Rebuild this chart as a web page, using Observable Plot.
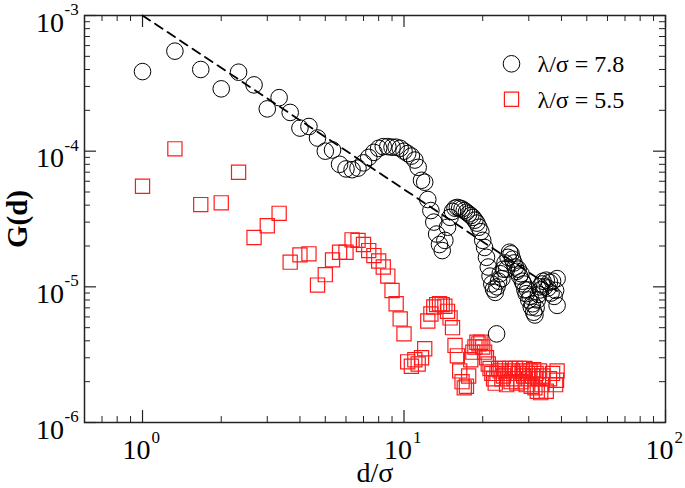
<!DOCTYPE html>
<html><head><meta charset="utf-8">
<script src="https://cdn.jsdelivr.net/npm/d3@7"></script>
<script src="https://cdn.jsdelivr.net/npm/@observablehq/plot@0.6"></script>
<style>html,body{margin:0;padding:0;background:#fff}</style>
</head><body><div id="chart"></div>
<script>
// λ/σ = 7.8 (circles)
const circleX = [1.00,1.33,1.67,2.00,2.33,2.67,3.00,3.33,3.67,4.00,4.33,4.67,5.00,5.33,5.67,6.00,6.33,6.67,7.00,7.33,7.67,8.00,8.33,8.67,9.00,9.33,9.67,10.0,10.33,10.67,11.0,11.33,11.67,12.0,12.33,12.67,13.0,13.33,13.67,14.0,14.33,14.67,15.0,15.33,15.67,16.0,16.33,16.67,17.0,17.33,17.67,18.0,18.33,18.67,19.0,19.33,19.67,20.0,20.33,20.67,21.0,21.33,21.67,22.0,22.33,22.67,23.0,23.33,23.67,24.0,24.33,24.67,25.0,25.33,25.67,26.0,26.33,26.67,27.0,27.33,27.67,28.0,28.33,28.67,29.0,29.33,29.67,30.0,30.33,30.67,31.0,31.33,31.67,32.0,32.33,32.67,33.0,33.33,33.67,34.0,34.5,35.0,35.5,36.0,36.5,37.0,37.5,38.0,38.5,38.5,22.6];
const circleY = [3.86e-4,5.46e-4,4.0e-4,2.88e-4,3.82e-4,3.08e-4,2.05e-4,2.48e-4,1.93e-4,1.48e-4,1.52e-4,1.25e-4,1.0e-4,1.02e-4,8.0e-5,7.4e-5,7.3e-5,7.5e-5,8.2e-5,9.0e-5,9.8e-5,1.05e-4,1.08e-4,1.08e-4,1.07e-4,1.07e-4,1.05e-4,1.0e-4,9.6e-5,9.2e-5,8.6e-5,7.6e-5,6.1e-5,5.9e-5,4.4e-5,3.65e-5,3.0e-5,2.45e-5,2.05e-5,1.85e-5,2.2e-5,2.75e-5,3.25e-5,3.6e-5,3.8e-5,3.85e-5,3.8e-5,3.75e-5,3.65e-5,3.55e-5,3.45e-5,3.35e-5,3.25e-5,3.1e-5,2.95e-5,2.75e-5,2.55e-5,2.2e-5,1.95e-5,1.65e-5,1.4e-5,1.2e-5,1.05e-5,9.6e-6,9.1e-6,1.0e-5,1.1e-5,1.25e-5,1.15e-5,1.35e-5,1.5e-5,1.35e-5,1.65e-5,1.8e-5,1.75e-5,1.6e-5,1.5e-5,1.4e-5,1.3e-5,1.35e-5,1.2e-5,1.25e-5,1.1e-5,1.05e-5,9.5e-6,8.9e-6,9.5e-6,8.0e-6,8.5e-6,7.1e-6,7.5e-6,6.5e-6,6.2e-6,7.0e-6,8.0e-6,8.8e-6,1.0e-5,9.5e-6,1.05e-5,1.1e-5,1.0e-5,1.12e-5,9.8e-6,1.08e-5,9.0e-6,1.1e-5,8.5e-6,9.4e-6,1.15e-5,7.3e-6,4.5e-6];
// λ/σ = 5.5 (squares)
const squareX = [1.00,1.33,1.67,2.00,2.33,2.67,3.00,3.33,3.67,4.00,4.33,4.67,5.00,5.33,5.67,6.00,6.33,6.67,7.00,7.33,7.67,8.00,8.33,8.67,9.00,9.33,9.67,10.0,10.33,10.67,11.0,11.33,11.67,12.0,12.33,12.67,13.0,13.33,13.67,14.0,14.33,14.67,15.0,15.33,15.67,16.0,16.33,16.67,17.0,17.33,17.67,18.0,18.33,18.67,19.0,19.33,19.67,20.0,20.33,20.67,21.0,21.33,21.67,22.0,22.33,22.67,23.0,23.33,23.67,24.0,24.33,24.67,25.0,25.33,25.67,26.0,26.33,26.67,27.0,27.33,27.67,28.0,28.33,28.67,29.0,29.33,29.67,30.0,30.33,30.67,31.0,31.33,31.67,32.0,32.33,32.67,33.0,33.33,33.67,34.0,35.0,36.0,37.0,38.0,38.5,38.3];
const squareY = [5.51e-5,1.04e-4,4.04e-5,4.16e-5,6.99e-5,2.31e-5,2.82e-5,3.48e-5,1.52e-5,1.72e-5,1.75e-5,1.03e-5,1.23e-5,1.58e-5,1.8e-5,1.8e-5,2.22e-5,2.2e-5,2.05e-5,1.85e-5,1.7e-5,1.55e-5,1.4e-5,1.2e-5,9.4e-6,7.5e-6,5.8e-6,4.5e-6,2.8e-6,2.6e-6,2.9e-6,2.7e-6,3.0e-6,3.5e-6,5.6e-6,6.3e-6,7.1e-6,7.4e-6,7.5e-6,7.4e-6,7.2e-6,6.6e-6,5.9e-6,5.0e-6,3.7e-6,3.1e-6,2.4e-6,2.0e-6,1.8e-6,1.85e-6,2.2e-6,2.9e-6,3.3e-6,3.6e-6,3.9e-6,3.8e-6,3.9e-6,3.6e-6,3.3e-6,3.0e-6,2.7e-6,2.5e-6,2.3e-6,2.1e-6,1.95e-6,2.3e-6,2.5e-6,2.4e-6,2.1e-6,2.2e-6,2.5e-6,1.9e-6,2.3e-6,2.5e-6,2.0e-6,2.4e-6,2.1e-6,2.5e-6,1.95e-6,2.3e-6,2.5e-6,2.0e-6,2.4e-6,2.2e-6,2.5e-6,1.9e-6,2.3e-6,2.1e-6,2.4e-6,1.85e-6,2.2e-6,2.45e-6,1.8e-6,2.3e-6,1.7e-6,2.1e-6,2.4e-6,1.66e-6,1.9e-6,2.2e-6,1.7e-6,2.1e-6,2.3e-6,1.9e-6,2.4e-6,2.05e-6];
// power-law guide (dashed)
const fitX = [1, 38.5];
const fitY = [1e-3, 9.3e-6];
// ticks
const xMajor = [1, 10, 100];
const xMajorExp = ["0", "1", "2"];
const xMinor = [0.7,0.8,0.9,2,3,4,5,6,7,8,9,20,30,40,50,60,70,80,90];
const yMajor = [1e-3, 1e-4, 1e-5, 1e-6];
const yMajorExp = ["-3", "-4", "-5", "-6"];
const yMinor = [2e-6,3e-6,4e-6,5e-6,6e-6,7e-6,8e-6,9e-6,2e-5,3e-5,4e-5,5e-5,6e-5,7e-5,8e-5,9e-5,2e-4,3e-4,4e-4,5e-4,6e-4,7e-4,8e-4,9e-4];
const legendLabels = ["λ/σ = 7.8", "λ/σ = 5.5"];
const xTitle = "d/σ";
const yTitle = "G(d)";

const W = 685, H = 488, mL = 84, mR = 20, mT = 15, mB = 66;
const fw = W - mL - mR, fh = H - mT - mB;
const circles = circleX.map((x, i) => ({x, y: circleY[i]}));
const squares = squareX.map((x, i) => ({x, y: squareY[i]}));
const fit = fitX.map((x, i) => ({x, y: fitY[i]}));
const tc = "#222";
const font = "'Liberation Serif', 'Times New Roman', serif";

const chart = Plot.plot({
  width: W, height: H,
  marginLeft: mL, marginRight: mR, marginTop: mT, marginBottom: mB,
  style: {fontFamily: font, background: "white", color: "black"},
  x: {type: "log", domain: [0.6, 100], axis: null},
  y: {type: "log", domain: [1e-6, 1e-3], axis: null},
  marks: [
    // ticks (inward, all four sides)
    Plot.ruleX(xMajor, {x: d => d, insetTop: fh - 12, stroke: tc, strokeWidth: 1.2}),
    Plot.ruleX(xMajor, {x: d => d, insetBottom: fh - 12, stroke: tc, strokeWidth: 1.2}),
    Plot.ruleX(xMinor, {x: d => d, insetTop: fh - 6, stroke: tc, strokeWidth: 1}),
    Plot.ruleX(xMinor, {x: d => d, insetBottom: fh - 6, stroke: tc, strokeWidth: 1}),
    Plot.ruleY(yMajor, {y: d => d, insetRight: fw - 12, stroke: tc, strokeWidth: 1.2}),
    Plot.ruleY(yMajor, {y: d => d, insetLeft: fw - 12, stroke: tc, strokeWidth: 1.2}),
    Plot.ruleY(yMinor, {y: d => d, insetRight: fw - 6, stroke: tc, strokeWidth: 1}),
    Plot.ruleY(yMinor, {y: d => d, insetLeft: fw - 6, stroke: tc, strokeWidth: 1}),
    Plot.frame({stroke: tc, strokeWidth: 1.5}),
    // tick labels
    Plot.text(xMajor, {x: d => d, frameAnchor: "bottom", text: () => "10", textAnchor: "end", lineAnchor: "bottom", dx: 8, dy: 36.5, fontSize: 28, fill: "black"}),
    Plot.text(xMajor, {x: d => d, frameAnchor: "bottom", text: (d, i) => xMajorExp[i], textAnchor: "start", lineAnchor: "bottom", dx: 9, dy: 20, fontSize: 17, fill: "black"}),
    Plot.text(yMajor, {y: d => d, frameAnchor: "left", text: () => "10", textAnchor: "end", lineAnchor: "bottom", dx: -20.5, dy: 16, fontSize: 28, fill: "black"}),
    Plot.text(yMajor, {y: d => d, frameAnchor: "left", text: (d, i) => yMajorExp[i], textAnchor: "start", lineAnchor: "bottom", dx: -20, dy: -0.5, fontSize: 17, fill: "black"}),
    // axis titles
    Plot.text([xTitle], {frameAnchor: "bottom", text: d => d, textAnchor: "middle", lineAnchor: "bottom", dy: 59, fontSize: 28, fill: "black"}),
    Plot.text([yTitle], {frameAnchor: "left", text: d => d, rotate: -90, textAnchor: "middle", lineAnchor: "middle", dx: -67, fontSize: 29, fontWeight: "bold", fill: "black"}),
    // data
    Plot.dot(squares, {x: "x", y: "y", symbol: "square", r: 8, stroke: "#ff1a1a", strokeWidth: 1.2, fill: "none"}),
    Plot.dot(circles, {x: "x", y: "y", symbol: "circle", r: 8.3, stroke: "black", strokeWidth: 1, fill: "none"}),
    Plot.line(fit, {x: "x", y: "y", stroke: "black", strokeWidth: 1.8, strokeDasharray: "9,6"}),
    // legend
    Plot.dot([legendLabels[0]], {frameAnchor: "top-right", dx: -154, dy: 48.3, symbol: "circle", r: 8.3, stroke: "black", strokeWidth: 1, fill: "none"}),
    Plot.dot([legendLabels[1]], {frameAnchor: "top-right", dx: -154, dy: 83.7, symbol: "square", r: 8, stroke: "#ff1a1a", strokeWidth: 1.2, fill: "none"}),
    Plot.text([legendLabels[0]], {frameAnchor: "top-right", text: d => d, textAnchor: "start", lineAnchor: "bottom", dx: -128, dy: 56.5, fontSize: 24, fill: "black"}),
    Plot.text([legendLabels[1]], {frameAnchor: "top-right", text: d => d, textAnchor: "start", lineAnchor: "bottom", dx: -128, dy: 92, fontSize: 24, fill: "black"})
  ]
});
document.getElementById("chart").appendChild(chart);
</script>
</body></html>
